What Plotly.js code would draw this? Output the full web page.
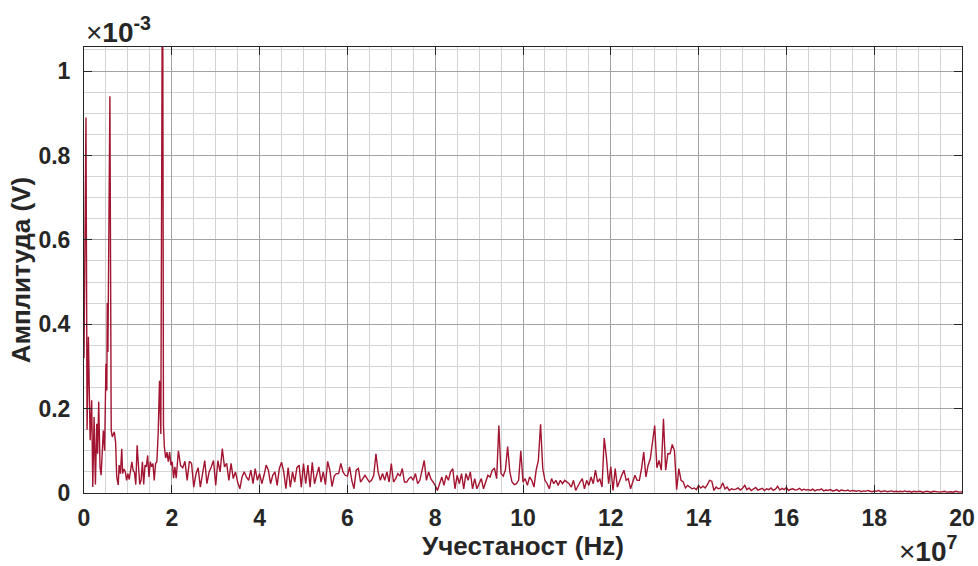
<!DOCTYPE html>
<html>
<head>
<meta charset="utf-8">
<script src="https://cdn.plot.ly/plotly-3.0.1.min.js"></script>
<style>
html,body{margin:0;padding:0;background:#ffffff;}
#chart{width:978px;height:566px;}
</style>
</head>
<body>
<div id="chart"></div>
<script>
// Frequency in units of 1e7 Hz, amplitude in units of 1e-3 V (as shown by the axis multipliers)

// Low-frequency part (explicit readings, irregular spacing)
const headFreq = [0, 0.045, 0.07, 0.10, 0.14, 0.175, 0.20, 0.23, 0.26, 0.29,
  0.31, 0.335, 0.365, 0.39, 0.44, 0.47, 0.50, 0.52, 0.53, 0.545,
  0.59, 0.62, 0.645, 0.69, 0.72, 0.745, 0.78, 0.80, 0.83, 0.86,
  0.88, 0.91, 0.94, 0.97, 1.00, 1.03, 1.06, 1.09, 1.12, 1.15,
  1.18, 1.21, 1.24, 1.27, 1.30, 1.33, 1.36, 1.39, 1.42, 1.45,
  1.48, 1.51, 1.54, 1.57, 1.60, 1.63, 1.66, 1.69, 1.72, 1.75,
  1.79, 1.81, 1.83, 1.86, 1.89, 1.92, 1.95, 1.98, 2.01, 2.04, 2.07];
const headAmp = [0.32, 0.89, 0.15, 0.37, 0.125, 0.22, 0.014, 0.18, 0.02, 0.164,
  0.093, 0.216, 0.062, 0.042, 0.148, 0.10, 0.306, 0.243, 0.45, 0.334,
  0.94, 0.148, 0.133, 0.145, 0.12, 0.038, 0.019, 0.066, 0.046, 0.105,
  0.046, 0.057, 0.051, 0.03, 0.046, 0.032, 0.053, 0.074, 0.053, 0.049,
  0.02, 0.113, 0.066, 0.02, 0.03, 0.074, 0.02, 0.066, 0.062, 0.089,
  0.038, 0.074, 0.062, 0.07, 0.03, 0.07, 0.074, 0.141, 0.266, 0.14,
  1.4, 0.16, 0.11, 0.083, 0.097, 0.074, 0.097, 0.066, 0.074, 0.035, 0.062];

// Remaining spectrum on a regular 0.05e7 Hz grid, in segments
const freqStep = 0.05;
const seg1Start = 2.10;
const seg1Amp = [0.035,0.10,0.065,0.06,0.075,0.03,0.075,0.07,0.014,0.045,
  0.06,0.014,0.046,0.077,0.022,0.05,0.062,0.077,0.018,0.077,
  0.05,0.105,0.062,0.07,0.03,0.07,0.034,0.05,0.026,0.01,
  0.038,0.05,0.038,0.03,0.054,0.022,0.058,0.03,0.046,0.022,
  0.042,0.066,0.054,0.022,0.042,0.05,0.018,0.058,0.073,0.05,
  0.01,0.06,0.014,0.05,0.026,0.06,0.066,0.014,0.07,0.022,
  0.066,0.014,0.073,0.022,0.042,0.062,0.026,0.05,0.02,0.075,
  0.054,0.015,0.04,0.046];
const seg2Start = 5.80;
const seg2Amp = [0.046,0.07,0.05,0.042,0.04,0.062,0.03,0.01,0.054,0.058,
  0.026,0.034,0.042,0.034,0.026,0.03,0.042,0.093,0.05,0.03,
  0.046,0.03,0.05,0.026,0.07,0.026,0.034,0.046,0.04,0.058,
  0.026,0.026,0.034,0.038,0.03,0.046,0.022,0.03,0.054,0.077,
  0.03,0.05,0.034,0.026,0.018,0.006,0.022,0.038,0.018,0.042,
  0.03,0.05,0.058,0.01,0.042,0.022,0.046,0.01,0.046,0.03,
  0.05,0.01,0.034,0.01,0.022,0.034,0.01,0.026,0.042,0.038,
  0.054,0.058,0.034,0.16,0.046];
const seg3Start = 9.55;
const seg3Amp = [0.04,0.055,0.11,0.05,0.026,0.02,0.022,0.03,0.10,0.026,
  0.034,0.018,0.038,0.03,0.014,0.054,0.077,0.163,0.058,0.03,
  0.022,0.01,0.034,0.022,0.03,0.018,0.03,0.022,0.03,0.026,
  0.022,0.014,0.03,0.006,0.018,0.026,0.034,0.01,0.03,0.018,
  0.038,0.022,0.054,0.026,0.034,0.014,0.13,0.085,0.022,0.062,
  0.006,0.058,0.014,0.03,0.042,0.054,0.03,0.034,0.01,0.026,
  0.042,0.03,0.03,0.058,0.097,0.038,0.066,0.081,0.12,0.16,
  0.06,0.077,0.054,0.176,0.054,0.093];
const seg4Start = 13.35;
const seg4Amp = [0.093,0.115,0.1,0.008,0.058,0.03,0.026,0.012,0.018,0.014,
  0.01,0.012,0.008,0.018,0.012,0.016,0.012,0.02,0.03,0.028,
  0.006,0.014,0.01,0.012,0.024,0.01,0.014,0.006,0.01,0.008];
const seg5Start = 14.85;
const seg5Amp = [0.009,0.012,0.007,0.011,0.018,0.008,0.012,0.006,0.01,0.013,0.007,0.009,0.011,0.006,
  0.01,0.008,0.012,0.006,0.009,0.016,0.007,0.011,0.008,0.013,0.006,0.009,0.01,0.007,0.008,0.011,0.006,0.009,0.007,0.008,
  0.006,0.009,0.005,0.008,0.007,0.01,0.005,0.007,0.006,0.008,0.005,0.006,0.008,0.004,0.007,0.006,0.005,0.007,0.004,0.006,
  0.005,0.004,0.006,0.003,0.005,0.004,0.006,0.004,0.003,0.005,0.004,0.006,0.003,0.004,0.005,0.003,0.004,0.005,0.003,0.004,
  0.003,0.004,0.003,0.005,0.003,0.004,0.002,0.004,0.003,0.003,0.004,0.002,0.003,0.004,0.003,0.002,0.004,0.003,0.003,0.002,
  0.003,0.004,0.002,0.003,0.003,0.002,0.004,0.003,0.002,0.003];

const xTickVals = [0,2,4,6,8,10,12,14,16,18,20];
const yTickVals = [0,0.2,0.4,0.6,0.8,1];
const yTickText = ['0','0.2','0.4','0.6','0.8','1'];

const xTitle = 'Учестаност (Hz)';
const yTitle = 'Амплитуда (V)';

// assemble
const freq = headFreq.slice();
const amp = headAmp.slice();
[[seg1Start, seg1Amp],[seg2Start, seg2Amp],[seg3Start, seg3Amp],[seg4Start, seg4Amp],[seg5Start, seg5Amp]].forEach(function(s){
  s[1].forEach(function(a, i){
    freq.push(Math.round((s[0] + i*freqStep)*1000)/1000);
    amp.push(a);
  });
});

const FONT = 'Liberation Sans, Arial, Helvetica, sans-serif';
const AX = '#262626';

const trace = {
  x: freq, y: amp, type: 'scatter', mode: 'lines',
  line: {color: '#A2142F', width: 1.4},
  hoverinfo: 'skip'
};

const layout = {
  width: 978, height: 566,
  margin: {l: 84, r: 16, t: 47, b: 73, pad: 0},
  paper_bgcolor: '#ffffff', plot_bgcolor: '#ffffff',
  showlegend: false,
  xaxis: {
    range: [0, 20], autorange: false,
    tickmode: 'array', tickvals: xTickVals, ticktext: xTickVals.map(String),
    ticks: 'inside', ticklen: 8, tickwidth: 1, tickcolor: AX,
    showline: true, linecolor: AX, linewidth: 1, mirror: 'ticks',
    showgrid: true, gridcolor: '#a3a3a3', gridwidth: 1, zeroline: false,
    minor: {tick0: 0, dtick: 0.5, showgrid: true, gridcolor: '#d3d3d3', gridwidth: 1, ticks: ''},
    tickfont: {family: FONT, size: 23, weight: 'bold', color: AX},
    ticklabelstandoff: 4,
    title: {text: xTitle, font: {family: FONT, size: 26, weight: 'bold', color: AX}, standoff: 2},
    automargin: false
  },
  yaxis: {
    range: [0, 1.057], autorange: false,
    tickmode: 'array', tickvals: yTickVals, ticktext: yTickText,
    ticks: 'inside', ticklen: 8, tickwidth: 1, tickcolor: AX,
    showline: true, linecolor: AX, linewidth: 1, mirror: 'ticks',
    showgrid: true, gridcolor: '#a3a3a3', gridwidth: 1, zeroline: false,
    minor: {tick0: 0, dtick: 0.05, showgrid: true, gridcolor: '#d3d3d3', gridwidth: 1, ticks: ''},
    tickfont: {family: FONT, size: 23, weight: 'bold', color: AX},
    ticklabelstandoff: 8,
    title: {text: yTitle, font: {family: FONT, size: 26, weight: 'bold', color: AX}, standoff: 0},
    automargin: false
  },
  annotations: [
    {xref: 'paper', yref: 'paper', x: 0, y: 1, xanchor: 'left', yanchor: 'bottom',
     yshift: -3, showarrow: false, align: 'left',
     text: '×<b>10<sup>-3</sup></b>',
     font: {family: FONT, size: 28, color: AX}},
    {xref: 'paper', yref: 'paper', x: 1, y: -0.1637, xanchor: 'right', yanchor: 'bottom',
     xshift: -2, yshift: -3, showarrow: false, align: 'right',
     text: '×<b>10<sup>7</sup></b>',
     font: {family: FONT, size: 28, color: AX}}
  ]
};

Plotly.newPlot('chart', [trace], layout, {displayModeBar: false, staticPlot: true});
</script>
</body>
</html>
